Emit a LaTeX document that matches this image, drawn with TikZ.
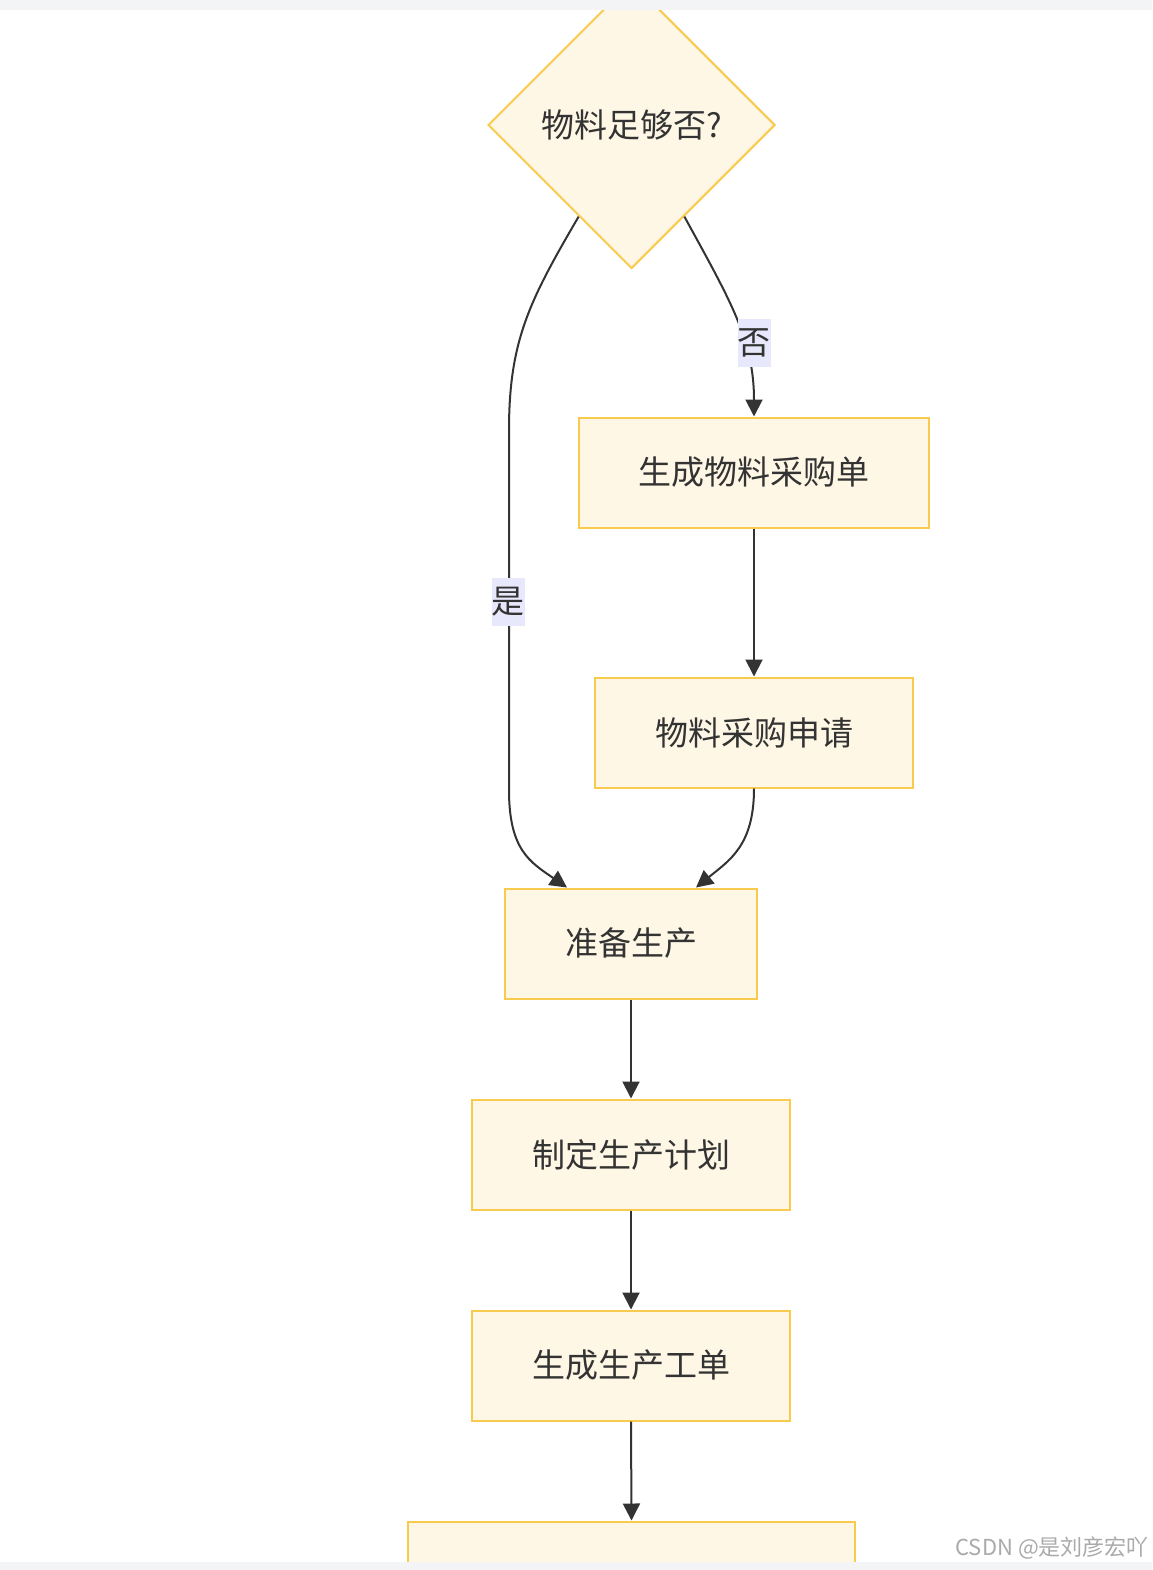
\documentclass[tikz,border=0pt]{standalone}
\usepackage{fontspec}
\setmainfont{Noto Sans CJK SC}
\usetikzlibrary{shapes.geometric,arrows.meta}
\definecolor{boxfill}{HTML}{FFF7E6}
\definecolor{boxline}{HTML}{F8CB4F}
\definecolor{ink}{HTML}{333333}
\definecolor{lblbg}{HTML}{E8E8FC}
\definecolor{barbg}{HTML}{F3F4F5}
\definecolor{wm}{HTML}{AAAAAA}
\begin{document}
\begin{tikzpicture}[x=1pt,y=-1pt,
  box/.style={draw=boxline, fill=boxfill, line width=2pt, minimum height=110pt, inner sep=0pt, font=\fontsize{33}{38}\selectfont, text=ink},
  decbox/.style={diamond, aspect=1, draw=boxline, fill=boxfill, line width=2pt, minimum width=287pt, minimum height=287pt, inner sep=0pt, font=\fontsize{33}{38}\selectfont, text=ink},
  conn/.style={draw=ink, line width=2pt, -{Triangle[length=17pt,width=17pt]}},
  lbl/.style={fill=lblbg, inner sep=0pt, minimum width=32pt, minimum height=48pt, font=\fontsize{33}{38}\selectfont, text=ink}]
\useasboundingbox (0,0) rectangle (1152,1570);
\clip (0,0) rectangle (1152,1570);
\fill[white] (0,0) rectangle (1152,1570);

\node[decbox] (dec) at (631.5,125) {物料足够否?};
\node[box, minimum width=350pt] (buy) at (754,472.5) {生成物料采购单};
\node[box, minimum width=318pt] (apply) at (754,732.5) {物料采购申请};
\node[box, minimum width=252pt] (prep) at (631,943.5) {准备生产};
\node[box, minimum width=318pt] (plan) at (631,1154.5) {制定生产计划};
\node[box, minimum width=318pt] (order) at (631,1365.5) {生成生产工单};
\node[box, minimum width=447pt] (last) at (631.5,1576.5) {};

\path[conn] (dec.-60) .. controls (730,300) and (754,340) .. (buy.north);
\path[conn] (dec.-120) .. controls (530,300) and (509,340) .. (509,430) -- (509,790) .. controls (509,850) and (530,862) .. ([xshift=-64pt]prep.north);
\path[conn] (buy.south) -- (apply.north);
\path[conn] (apply.south) .. controls (754,845) and (730,860) .. ([xshift=65pt]prep.north);
\path[conn] (prep.south) -- (plan.north);
\path[conn] (plan.south) -- (order.north);
\path[conn] (order.south) -- (last.north);

\node[lbl] (no) at (754,343) {否};
\node[lbl] (yes) at (508,602) {是};

\fill[barbg] (0,0) rectangle (1152,10);
\fill[barbg] (0,1562) rectangle (1152,1570);

\node[anchor=east, text=wm, inner sep=0pt, font=\fontsize{22}{26}\selectfont] (wmk) at (1149,1548) {CSDN @是刘彦宏吖};
\end{tikzpicture}
\end{document}
